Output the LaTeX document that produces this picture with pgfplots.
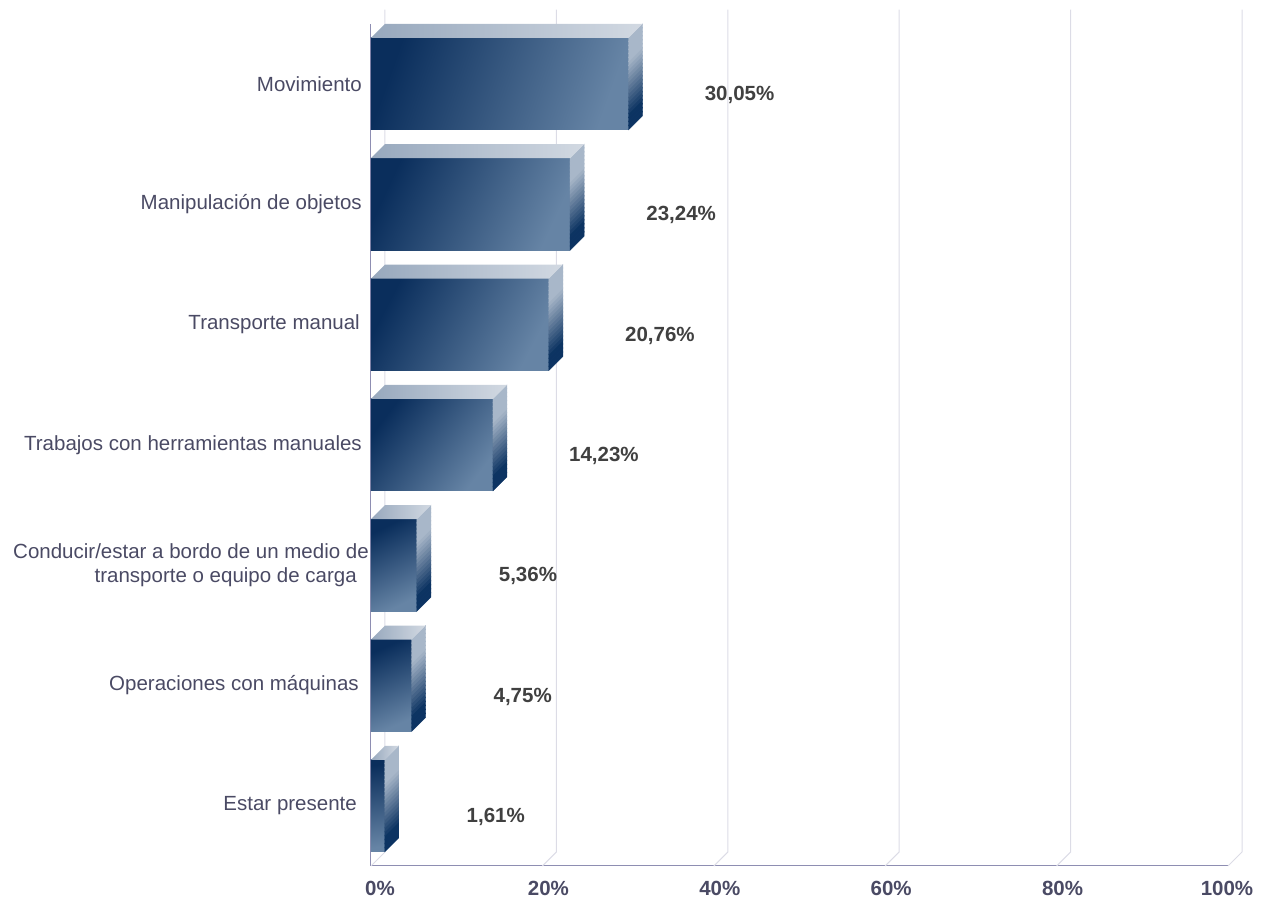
\documentclass[border=0pt]{standalone}
\usepackage{pgfplots}
\pgfplotsset{compat=1.18}
\usepackage{pgfplotstable}
\usepackage{fontspec}
\setmainfont{Liberation Sans}

\definecolor{barDark}{HTML}{0A2E5C}
\definecolor{barLight}{HTML}{6684A5}
\definecolor{topLeft}{HTML}{97A8BD}
\definecolor{topRight}{HTML}{D2D9E2}
\definecolor{sideTop}{HTML}{A8B7C9}
\definecolor{sideBot}{HTML}{0C3362}
\definecolor{gridc}{HTML}{DCDCE6}
\definecolor{axisc}{HTML}{8E8EB2}
\definecolor{labc}{HTML}{4A4A64}
\definecolor{valc}{HTML}{404040}

% category index (0 = bottom) and share in percent
\pgfplotstableread{
y val
0 1.61
1 4.75
2 5.36
3 14.23
4 20.76
5 23.24
6 30.05
}\datatable

\pgfplotsset{
  front/.style={xbar, bar shift=0pt, bar width=92pt, draw=none,
    top color=barDark, bottom color=barLight, shading angle=#1},
}

\begin{document}
\begin{tikzpicture}
\useasboundingbox (0,0) rectangle (1270pt,900pt);
\begin{axis}[
  at={(371pt,34pt)}, anchor=south west,
  x=8.57pt, y=120.33pt, scale only axis,
  xmin=0, xmax=100, ymin=-0.5, ymax=6.5,
  enlargelimits=false, clip=false,
  axis lines*=left,
  axis line style={-, draw=axisc, line width=1pt},
  major tick length=0pt,
  xtick={0,20,...,100},
  xticklabels={\hspace*{6pt}0\%, 20\%, 40\%, 60\%, 80\%, 100\%\hspace*{14pt}},
  xticklabel style={anchor=north, inner sep=0pt, yshift=-15pt, xshift=6pt,
    font=\fontsize{20.5}{24}\selectfont\bfseries, text=labc},
  ytick={0,...,6},
  yticklabels={Estar presente\hspace*{5pt},
    Operaciones con máquinas\hspace*{3pt},
    Conducir/estar a bordo de un medio de\hspace*{-7pt}\\transporte o equipo de carga\hspace*{5pt},
    Trabajos con herramientas manuales,
    Transporte manual\hspace*{2pt},
    Manipulación de objetos,
    Movimiento},
  yticklabel style={anchor=east, align=right, inner sep=0pt, xshift=-9pt,
    font=\fontsize{20.5}{23.5}\selectfont, text=labc},
  /pgf/number format/assume math mode=true,
]
% back-wall grid with floor slants
\pgfplotsinvokeforeach{0,20,...,100}{
  \draw[gridc, line width=1pt] (axis cs:#1,-0.5)
    -- ([shift={(14pt,14pt)}]axis cs:#1,-0.5)
    -- ([shift={(14pt,14pt)}]axis cs:#1,6.5);
}
% front faces
\addplot[front=8.5]  coordinates {(1.61,0)};
\addplot[front=23.9] coordinates {(4.75,1)};
\addplot[front=26.5] coordinates {(5.36,2)};
\addplot[front=53.0] coordinates {(14.23,3)};
\addplot[front=62.7] coordinates {(20.76,4)};
\addplot[front=65.2] coordinates {(23.24,5)};
\addplot[front=70.3] coordinates {(30.05,6)};
% top and side faces
\addplot[scatter, only marks, mark=text, text mark={},
  visualization depends on={rawx \as \val},
  scatter/@pre marker code/.code={
    \foreach \i in {0,...,22}{
      \pgfmathsetmacro\a{-46+4*\i}
      \pgfmathsetmacro\b{min(\a+4.6,46)}
      \pgfmathsetmacro\p{max(0,min(100,(0.85-(44-\a)/92)/0.6*100))}
      \fill[sideTop!\p!sideBot] (0pt,{\a*1pt}) -- (0pt,{\b*1pt})
        -- (14pt,{\b*1pt+14pt}) -- (14pt,{\a*1pt+14pt}) -- cycle;
    }
    \shade[draw=none, left color=topLeft, right color=topRight]
      ({-\val*8.57pt},46pt) -- (0pt,46pt) -- (14pt,60pt) -- ({-\val*8.57pt+14pt},60pt) -- cycle;
  },
  scatter/@post marker code/.code={},
] table[x=val, y=y] {\datatable};
% value labels
\addplot[only marks, mark=none, point meta=x,
  nodes near coords={\pgfmathprintnumber[fixed, fixed zerofill, precision=2, use comma]{\pgfplotspointmeta}\%},
  every node near coord/.append style={anchor=center, inner sep=0pt,
    xshift=111pt, yshift=-11pt,
    font=\fontsize{20.5}{24}\selectfont\bfseries, text=valc},
] table[x=val, y=y] {\datatable};
\end{axis}
\end{tikzpicture}
\end{document}
